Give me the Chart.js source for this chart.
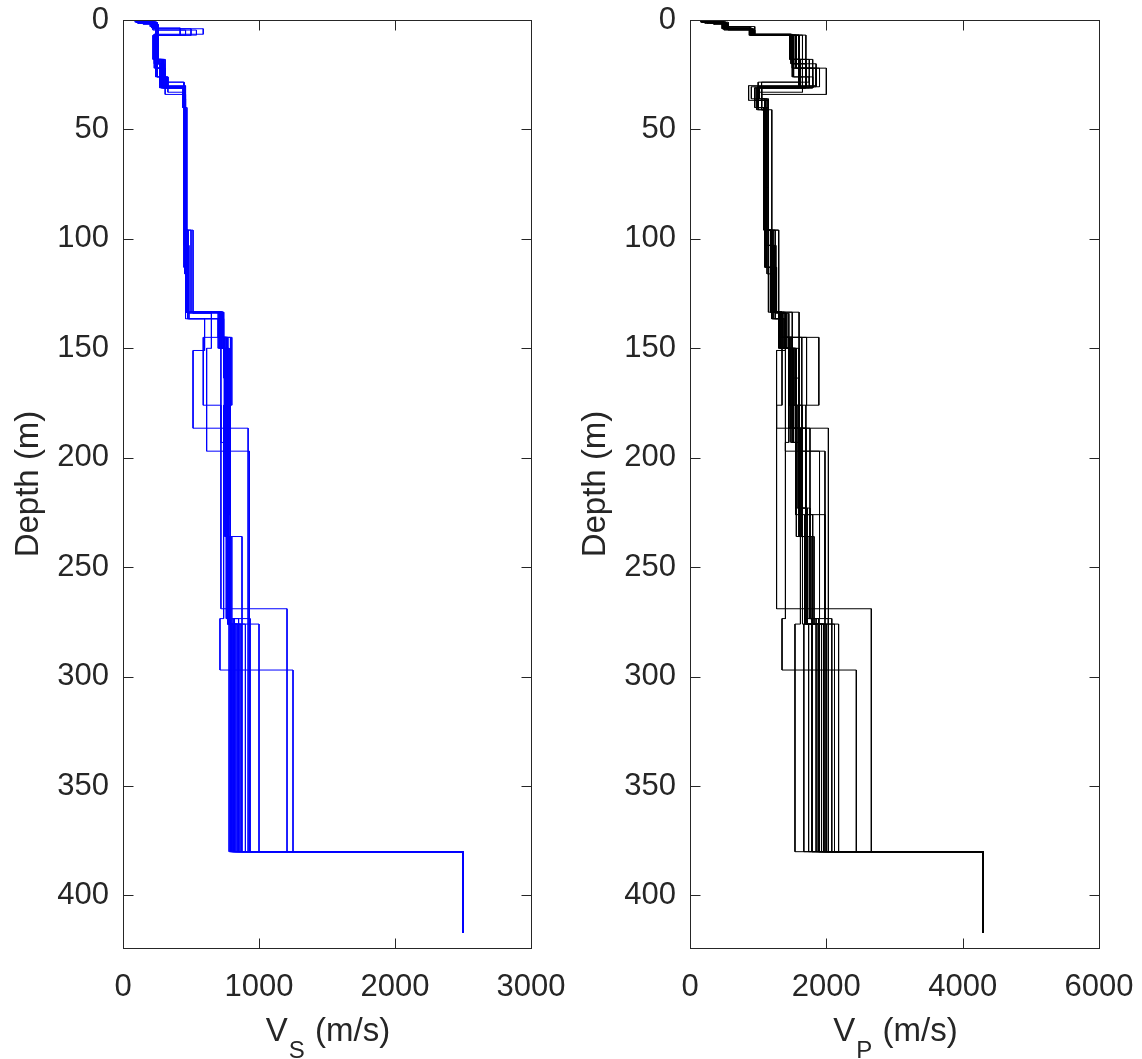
<!DOCTYPE html>
<html>
<head>
<meta charset="utf-8">
<script src="https://cdn.jsdelivr.net/npm/chart.js@4.4.1/dist/chart.umd.min.js"></script>
<style>
  html, body { margin: 0; padding: 0; background: #fff; }
  #wrap { position: relative; width: 1142px; height: 1059px; }
  .panel { position: absolute; top: 0; width: 571px; height: 1059px; }
</style>
</head>
<body>
<div id="wrap">
  <div class="panel" style="left:0"><canvas id="vsChart" width="571" height="1059"></canvas></div>
  <div class="panel" style="left:571px"><canvas id="vpChart" width="571" height="1059"></canvas></div>
</div>
<script>
// layer tops (m) of each model, shared by the Vs and Vp profiles
const layerTops = [
  [0, 1, 4, 7, 18, 31, 41, 96, 133.5, 150, 186.5, 236, 276, 380],
  [0, 1.5, 4, 6.5, 22, 30.5, 36, 103, 133.5, 145, 176, 223, 273.5, 380],
  [0, 1, 3, 6.9, 18, 28.4, 40, 113, 136.5, 151, 186.5, 380],
  [0, 1, 4, 7, 22, 31, 40, 96, 134, 150, 197, 380],
  [0, 2, 4.6, 6.9, 20, 30, 36.7, 113, 133.5, 145, 176, 269, 380],
  [0, 1, 3.6, 7, 26, 33, 40, 76.5, 133.5, 150, 193, 273.5, 297, 380],
  [0, 1, 4, 7, 18, 31, 41, 96, 133.5, 145, 186.5, 276, 380],
  [0, 1, 4, 7, 22, 30.5, 36, 116, 136.5, 150, 236, 380],
  [0, 1.5, 4, 6.5, 18, 28.4, 40, 103, 133.5, 145, 176, 226, 273.5, 380],
  [0, 1, 3, 6.9, 22, 34, 41, 96, 134, 150, 186.5, 236, 276, 380],
  [0, 1, 4.6, 6.9, 20, 31, 40, 113, 133.5, 145, 163.6, 223, 276, 380],
  [0, 1, 4, 7, 18, 31, 36.7, 96, 133.5, 145, 197, 273.5, 380],
  [0, 1.5, 4, 7, 26, 31, 41, 103, 136.5, 150, 186.5, 236, 276, 380],
  [0, 1, 3.6, 6.9, 18, 30.5, 40, 96, 133.5, 145, 176, 226, 276, 380],
  [0, 1, 4, 7, 22, 31, 40, 113, 133.5, 150, 186.5, 236, 273.5, 380],
  [0, 1, 4, 6.9, 20, 30.5, 36.7, 103, 133.5, 145, 193, 236, 276, 380],
  [0, 1, 4, 7, 20, 31, 40, 96, 133.5, 145, 186.5, 226, 276, 380],
  [0, 1, 3.6, 6.9, 22, 30.5, 40, 103, 133.5, 150, 193, 236, 273.5, 380],
  [0, 1.5, 4, 7, 18, 31, 36.7, 113, 133.5, 145, 176, 236, 276, 380],
  [0, 1, 4, 6.5, 20, 30.5, 41, 96, 136.5, 150, 186.5, 226, 276, 380],
  [0, 1, 4, 7, 26, 31, 40, 103, 133.5, 145, 193, 236, 273.5, 380],
  [0, 1, 4, 7, 18, 30.5, 36, 96, 133.5, 150, 176, 223, 276, 380]
];

// shear-wave velocity (m/s) of each layer
const vsValues = [
  [100, 230, 250, 220, 290, 455, 450, 470, 725, 760, 775, 790, 830, 2500],
  [130, 240, 590, 240, 300, 450, 460, 480, 700, 745, 740, 760, 800, 2500],
  [110, 200, 240, 260, 310, 445, 450, 460, 600, 515, 920, 2500],
  [120, 250, 260, 230, 280, 455, 470, 515, 650, 615, 930, 2500],
  [150, 260, 540, 260, 300, 460, 450, 470, 740, 590, 720, 1206, 2500],
  [100, 210, 250, 240, 330, 440, 450, 460, 730, 720, 740, 713, 1250, 2500],
  [90, 220, 250, 230, 270, 455, 465, 500, 710, 790, 770, 1000, 2500],
  [120, 240, 500, 250, 290, 450, 455, 475, 700, 750, 875, 2500],
  [110, 230, 260, 230, 300, 450, 450, 470, 735, 760, 770, 790, 810, 2500],
  [140, 250, 260, 250, 310, 460, 460, 480, 720, 780, 760, 780, 900, 2500],
  [100, 220, 460, 240, 290, 450, 450, 465, 730, 740, 755, 770, 820, 2500],
  [110, 240, 250, 230, 280, 450, 455, 470, 735, 770, 780, 935, 2500],
  [130, 230, 250, 250, 320, 455, 460, 485, 710, 770, 790, 780, 860, 2500],
  [100, 220, 420, 240, 280, 440, 450, 480, 720, 800, 760, 770, 780, 2500],
  [120, 240, 250, 240, 300, 450, 455, 470, 740, 750, 770, 760, 790, 2500],
  [110, 240, 260, 240, 290, 455, 460, 470, 730, 760, 760, 780, 840, 2500],
  [100, 230, 250, 235, 300, 450, 455, 470, 730, 770, 780, 770, 800, 2500],
  [120, 240, 260, 250, 310, 455, 450, 480, 725, 765, 775, 790, 850, 2500],
  [110, 250, 260, 240, 290, 445, 455, 470, 720, 760, 750, 770, 790, 2500],
  [100, 220, 250, 230, 280, 455, 460, 475, 740, 780, 770, 790, 870, 2500],
  [130, 240, 250, 250, 330, 450, 460, 470, 730, 750, 760, 800, 820, 2500],
  [110, 230, 260, 240, 300, 450, 450, 465, 720, 760, 780, 770, 810, 2500]
];

// compressional-wave velocity (m/s) of each layer
const vpValues = [
  [180, 520, 900, 1480, 1600, 980, 1100, 1180, 1320, 1520, 1640, 1700, 1960, 4300],
  [300, 540, 920, 1500, 1700, 900, 1150, 1230, 1350, 1460, 1570, 1760, 1890, 4300],
  [250, 480, 880, 1600, 1750, 1050, 1120, 1200, 1400, 1270, 2030, 4300],
  [160, 500, 900, 1550, 1800, 1000, 1150, 1300, 1450, 1400, 1980, 4300],
  [350, 560, 950, 1650, 1850, 860, 1100, 1200, 1500, 1350, 1270, 2660, 4300],
  [230, 500, 870, 1500, 1650, 1000, 1080, 1150, 1300, 1450, 1400, 1350, 2440, 4300],
  [200, 470, 900, 1480, 1600, 1050, 1200, 1300, 1600, 1640, 1700, 2180, 4300],
  [280, 530, 900, 1600, 1900, 1020, 1130, 1250, 1380, 1600, 1790, 4300],
  [250, 510, 880, 1480, 1620, 1000, 1100, 1230, 1320, 1890, 1700, 1980, 2030, 4300],
  [300, 560, 950, 1700, 2000, 1050, 1150, 1250, 1420, 1550, 1760, 1820, 2120, 4300],
  [170, 500, 920, 1550, 1700, 1000, 1100, 1180, 1350, 1500, 1600, 1700, 1670, 4300],
  [260, 520, 900, 1500, 1800, 950, 1100, 1200, 1350, 1600, 1900, 1890, 4300],
  [300, 550, 930, 1520, 1750, 1050, 1150, 1220, 1330, 1450, 1640, 1700, 1960, 4300],
  [220, 480, 880, 1460, 1600, 1000, 1080, 1200, 1300, 1710, 1550, 1620, 1540, 4300],
  [250, 520, 900, 1520, 1700, 1050, 1120, 1270, 1400, 1480, 1620, 1760, 1790, 4300],
  [240, 500, 900, 1500, 1650, 1000, 1150, 1250, 1350, 1500, 1650, 1720, 1880, 4300],
  [200, 500, 900, 1520, 1700, 950, 1120, 1220, 1350, 1500, 1600, 1680, 1900, 4300],
  [250, 520, 900, 1560, 1850, 1000, 1150, 1260, 1380, 1520, 1600, 1750, 2080, 4300],
  [220, 540, 920, 1500, 1650, 1050, 1150, 1250, 1300, 1450, 1560, 1650, 1740, 4300],
  [180, 480, 880, 1480, 1620, 1000, 1100, 1200, 1350, 1560, 1700, 1800, 2000, 4300],
  [300, 520, 920, 1600, 1800, 1000, 1120, 1230, 1330, 1480, 1620, 1700, 1850, 4300],
  [240, 500, 900, 1500, 1700, 1050, 1100, 1200, 1320, 1540, 1650, 1720, 1930, 4300]
];

const modelBottom = 417;
const depthMax = 424;
const depthTicks = [0, 50, 100, 150, 200, 250, 300, 350, 400];
const vsTicks = [0, 1000, 2000, 3000];
const vpTicks = [0, 2000, 4000, 6000];

const textColor = "#262626";
const fontFamily = "'Liberation Sans', Arial, Helvetica, sans-serif";

function stepPoints(tops, vals) {
  const pts = [];
  tops.forEach((t, i) => {
    const bot = i < tops.length - 1 ? tops[i + 1] : modelBottom;
    pts.push({ x: vals[i], y: t }, { x: vals[i], y: bot });
  });
  return pts;
}

// box, inward ticks and axis titles, drawn the matlab way
const framePlugin = {
  id: "frame",
  afterDraw(chart, args, opts) {
    const ctx = chart.ctx;
    const a = chart.chartArea;
    const L = Math.round(a.left) + 0.5, R = Math.round(a.right) + 0.5;
    const T = Math.round(a.top) + 0.5, B = Math.round(a.bottom) + 0.5;
    ctx.save();
    ctx.strokeStyle = textColor;
    ctx.lineWidth = 1;
    ctx.strokeRect(L, T, R - L, B - T);
    ctx.beginPath();
    chart.scales.x.ticks.forEach(t => {
      const px = Math.round(chart.scales.x.getPixelForValue(t.value)) + 0.5;
      ctx.moveTo(px, B); ctx.lineTo(px, B - 10);
      ctx.moveTo(px, T); ctx.lineTo(px, T + 10);
    });
    chart.scales.y.ticks.forEach(t => {
      const py = Math.round(chart.scales.y.getPixelForValue(t.value)) + 0.5;
      ctx.moveTo(L, py); ctx.lineTo(L + 10, py);
      ctx.moveTo(R, py); ctx.lineTo(R - 10, py);
    });
    ctx.stroke();

    ctx.fillStyle = textColor;
    // y title
    ctx.font = "33px " + fontFamily;
    ctx.textAlign = "center";
    ctx.textBaseline = "alphabetic";
    ctx.save();
    ctx.translate(opts.yTitleX, (a.top + a.bottom) / 2);
    ctx.rotate(-Math.PI / 2);
    ctx.fillText("Depth (m)", 0, 0);
    ctx.restore();

    // x title with subscript
    ctx.textAlign = "left";
    ctx.font = "33px " + fontFamily;
    const wV = ctx.measureText("V").width;
    const wRest = ctx.measureText(" (m/s)").width;
    ctx.font = "24px " + fontFamily;
    const wSub = ctx.measureText(opts.sub).width;
    const x0 = (a.left + a.right) / 2 - (wV + wSub + wRest) / 2;
    ctx.font = "33px " + fontFamily;
    ctx.fillText("V", x0, 1041);
    ctx.font = "24px " + fontFamily;
    ctx.fillText(opts.sub, x0 + wV + 1, 1058);
    ctx.font = "33px " + fontFamily;
    ctx.fillText(" (m/s)", x0 + wV + wSub + 2, 1041);
    ctx.restore();
  }
};

function makeChart(id, values, color, xTicks, sub, plotLeft, plotRight, yTitleX) {
  const datasets = layerTops.map((tops, i) => ({
    data: stepPoints(tops, values[i]),
    showLine: true,
    borderColor: color,
    borderWidth: 1,
    pointRadius: 0,
    fill: false
  }));
  const tickFont = { family: fontFamily, size: 31 };
  new Chart(document.getElementById(id), {
    type: "scatter",
    data: { datasets },
    plugins: [framePlugin],
    options: {
      responsive: false,
      animation: false,
      layout: { padding: { top: 20, right: 571 - plotRight, left: 0, bottom: 0 } },
      plugins: {
        legend: { display: false },
        tooltip: { enabled: false },
        frame: { sub: sub, yTitleX: yTitleX }
      },
      scales: {
        x: {
          type: "linear",
          min: xTicks[0],
          max: xTicks[xTicks.length - 1],
          afterBuildTicks: s => { s.ticks = xTicks.map(v => ({ value: v })); },
          afterFit: s => { s.height = 111; s.paddingLeft = 0; s.paddingRight = 0; },
          grid: { display: false, drawTicks: false },
          border: { display: false },
          ticks: {
            padding: 21, color: textColor, font: tickFont, maxRotation: 0, autoSkip: false,
            callback: v => String(v)
          }
        },
        y: {
          type: "linear",
          reverse: true,
          min: 0,
          max: depthMax,
          afterBuildTicks: s => { s.ticks = depthTicks.map(v => ({ value: v })); },
          afterFit: s => { s.width = plotLeft; s.paddingTop = 0; s.paddingBottom = 0; },
          grid: { display: false, drawTicks: false },
          border: { display: false },
          ticks: { padding: 14, color: textColor, font: tickFont, autoSkip: false, callback: v => String(v) }
        }
      }
    }
  });
}

makeChart("vsChart", vsValues, "#0000ff", vsTicks, "S", 123, 531, 38);
makeChart("vpChart", vpValues, "#000000", vpTicks, "P", 690 - 571, 1099 - 571, 605 - 571);
</script>
</body>
</html>
